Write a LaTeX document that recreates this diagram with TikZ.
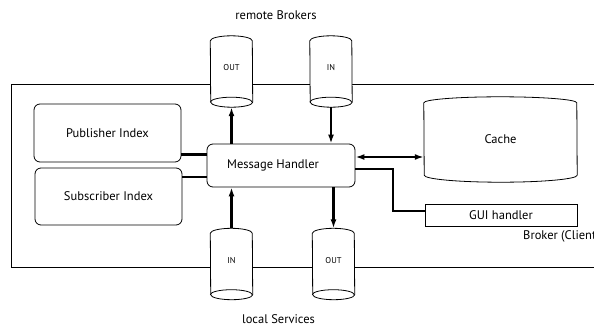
\documentclass[tikz,border=0pt]{standalone}
\usepackage{fontspec}
\setmainfont{PT Sans}
\usetikzlibrary{calc,arrows.meta}
\pgfdeclarelayer{bg}
\pgfdeclarelayer{mid}
\pgfsetlayers{bg,mid,main}
\tikzset{
  outline/.style={draw=black, line width=0.8pt},
  flow/.style={line width=2.2pt, line join=miter},
  >={Latex[length=9pt,width=6pt]},
  txt/.style={font=\fontsize{12.5}{14}\selectfont},
  lbl/.style={txt, inner sep=0pt},
  box/.style={outline, txt, fill=white, rounded corners=6pt, inner sep=0pt},
  plainbox/.style={outline, txt, fill=white, inner sep=0pt},
  store/.style={txt, inner sep=0pt},
  queue/.style={minimum width=42pt, minimum height=71pt, inner sep=0pt,
    text height=5.5pt, text depth=7.5pt, font=\fontsize{8.5}{9}\selectfont},
}
% queue drawn as a cylinder seen from below: arc on top, full ellipse at the bottom
\newcommand\queueoutline[1]{%
  \filldraw[outline, fill=white]
    ($(#1.north west)+(0,-5)$) arc[start angle=180, end angle=0, x radius=21pt, y radius=5pt]
    -- ($(#1.south east)+(0,5)$) arc[start angle=0, end angle=-180, x radius=21pt, y radius=5pt]
    -- cycle;
  \draw[outline] ($(#1.south west)+(0,5)$) arc[start angle=180, end angle=0, x radius=21pt, y radius=5pt];
}
\begin{document}
\begin{tikzpicture}[x=1pt,y=1pt]
\useasboundingbox (0,0) rectangle (594,-327);
\clip (0,0) rectangle (594,-327);

% broker frame, open towards the right edge
\begin{pgfonlayer}{bg}
  \draw[outline] (598,-84) -| (11,-267) -- (598,-267);
\end{pgfonlayer}

% components
\node[box, minimum width=147pt, minimum height=58pt] (pub) at (107.5,-133) {Publisher Index};
\node[box, minimum width=147pt, minimum height=57pt] (sub) at (108.5,-196.5) {Subscriber Index};
\node[box, minimum width=148pt, minimum height=43pt] (mh) at (281,-165.5) {Message Handler\hspace*{16pt}};
\node[plainbox, minimum width=152pt, minimum height=22pt] (gui) at (501,-215) {GUI handler};
\node[store, minimum width=153pt, minimum height=85pt] (cache) at (500.5,-139.5) {Cache};

% queues
\node[queue] (rOut) at (231.5,-71.5) {OUT};
\node[queue] (rIn)  at (331,-71.5) {IN};
\node[queue] (lIn)  at (231.5,-264) {IN};
\node[queue] (lOut) at (333.5,-264) {OUT};

\begin{pgfonlayer}{mid}
  \queueoutline{rOut}
  \queueoutline{rIn}
  \queueoutline{lIn}
  \queueoutline{lOut}
  % cache drum
  \filldraw[outline, fill=white]
    ($(cache.north west)+(0,-6)$) arc[start angle=180, end angle=0, x radius=76.5pt, y radius=6pt]
    -- ($(cache.south east)+(0,7)$) arc[start angle=0, end angle=-180, x radius=76.5pt, y radius=7pt]
    -- cycle;
\end{pgfonlayer}

% labels
\node[lbl] (remote) at (276,-15) {remote Brokers};
\node[lbl] (local) at (278.5,-319.5) {local Services};
\node[lbl, anchor=west] (broker) at (523,-236) {Broker (Client)};

% index links
\coordinate (pubOut) at ([yshift=8pt]pub.south east);
\coordinate (subOut) at ([yshift=-9pt]sub.north east);
\draw[flow] (pubOut) -- (pubOut -| mh.west);
\draw[flow] (subOut) -- (subOut -| mh.west);

% queue traffic
\draw[flow, ->] (mh.north -| rOut) -- (rOut.south);
\draw[flow, ->] (rIn.south) -- (mh.north -| rIn);
\draw[flow, ->] (lIn.north) -- (mh.south -| lIn);
\draw[flow, ->] (mh.south -| lOut) -- (lOut.north);

% cache and GUI
\coordinate (mhCache) at ([yshift=8.5pt]mh.east);
\draw[flow, <->] (mhCache) -- (mhCache -| cache.west);
\coordinate (mhGui) at ([yshift=-3.5pt]mh.east);
\coordinate (guiIn) at ([yshift=4pt]gui.west);
\draw[flow] (mhGui) -| ([xshift=-32pt]guiIn) -- (guiIn);
\end{tikzpicture}
\end{document}
